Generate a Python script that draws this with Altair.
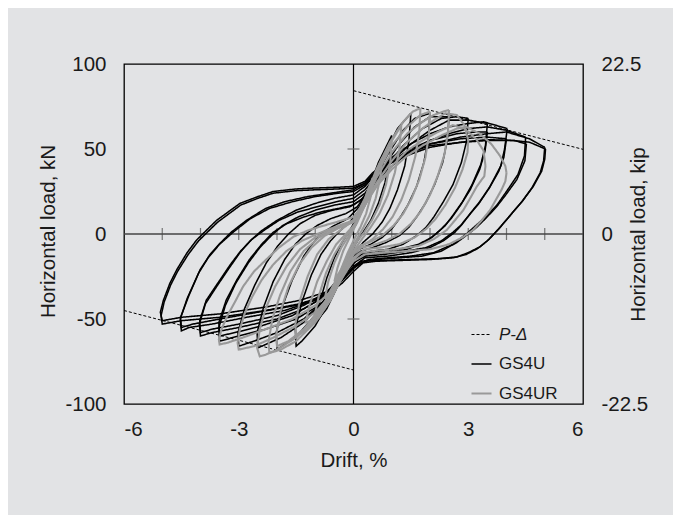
import altair as alt
import pandas as pd

# ---------------- axis / reference values ----------------
KN_LABELS = [-100, -50, 0, 50, 100]
KIP_LABELS = [-22.5, 0, 22.5]
DRIFT_LABELS = [-6, -3, 0, 3, 6]
ZERO_TICKS_X = [-5, -4, -3, -2, -1, 1, 2, 3, 4, 5]
ZERO_TICKS_Y = [-50, 50]
SERIES = ["P-Δ", "GS4U", "GS4UR"]

# P-Delta lines
PD_POS_DRIFT = [0, 6]
PD_POS_LOAD = [84.3, 49.8]
PD_NEG_DRIFT = [-6, 0]
PD_NEG_LOAD = [-45, -80]

# ---------------- GS4U (black) loops ----------------
K50A_D = [5.02, 5.0, 4.92, 4.7, 4.44, 4.1, 3.83, 3.55, 3.31, 3.0, 2.7, 2.2, 1.5, 0.8, 0.3, 0.0, -0.3, -0.7, -1.4, -2.3,
          -3.5, -4.5, -5.0, -5.05, -4.97, -4.8, -4.62, -4.35, -4.1, -3.58, -2.97, -2.5, -2.1, -1.5, -1.05, -0.4, 0.0, 0.3, 0.5, 0.8,
          1.13, 1.5, 2.0, 2.87, 3.5, 4.17, 4.6, 5.02]
K50A_F = [50, 44, 37, 28, 20, 11, 4, -3, -7.5, -11, -13.5, -14.5, -15, -15.5, -16, -20, -27, -34, -39, -43,
          -47, -49, -51, -46, -39, -29, -21, -11, -3.5, 8, 18, 22, 25, 26.5, 27, 27.5, 28, 31, 36, 41,
          44, 48, 52, 54, 55, 55, 54, 50]

K50B_D = [5.0, 4.97, 4.88, 4.66, 4.4, 4.06, 3.8, 3.5, 3.25, 2.95, 2.6, 2.0, 1.3, 0.6, 0.25, 0.0, -0.3, -0.7, -1.4, -2.3,
          -3.5, -4.5, -5.0, -5.03, -4.95, -4.78, -4.6, -4.32, -4.05, -3.55, -2.95, -2.5, -2.1, -1.5, -1.0, -0.4, 0.0, 0.3, 0.5, 0.8,
          1.1, 1.5, 2.0, 2.8, 3.5, 4.0, 4.6, 5.0]
K50B_F = [51, 43, 36, 27, 19, 10, 3, -4, -8.5, -12, -14, -15, -15.5, -16, -17, -22, -29, -36, -41, -45,
          -49, -51, -53, -48, -40, -30, -22, -12, -4, 7, 17, 21, 24, 25.5, 26, 26.5, 27, 30, 35, 40,
          44, 48, 53, 57, 59, 60, 56, 51]

K45A_D = [4.5, 4.47, 4.3, 4.0, 3.75, 3.45, 3.2, 2.95, 2.6, 2.1, 1.5, 0.9, 0.4, 0.1, -0.2, -0.5, -1.0, -1.8, -2.8, -3.7,
          -4.3, -4.5, -4.53, -4.35, -4.05, -3.8, -3.5, -3.15, -2.7, -2.2, -1.6, -1.0, -0.4, 0.0, 0.3, 0.6, 1.0, 1.5, 2.0, 2.5,
          3.0, 3.5, 4.0, 4.5]
K45A_F = [57, 46, 35, 25, 17, 10, 5, 0, -6, -11, -13, -14, -15, -18, -25, -32, -39, -45, -49, -53,
          -55, -57, -50, -38, -23, -14, -6, 1, 9, 15, 19, 22, 24, 25, 29, 36, 43, 50, 55, 59,
          62, 63, 61, 57]

K45B_D = [4.52, 4.48, 4.27, 3.98, 3.74, 3.45, 3.22, 3.0, 2.7, 2.3, 1.8, 1.2, 0.6, 0.2, -0.1, -0.4, -0.8, -1.5, -2.5, -3.5,
          -4.2, -4.5, -4.52, -4.3, -4.01, -3.75, -3.49, -3.2, -2.8, -2.3, -1.8, -1.2, -0.6, 0.0, 0.3, 0.6, 1.0, 1.5, 2.0, 2.8,
          3.5, 4.2, 4.52]
K45B_F = [53, 43, 32, 23, 16, 9, 4, 0, -5, -10, -13, -14, -15, -16, -22, -30, -37, -42, -46, -50,
          -53, -55, -49, -36, -21, -12, -5.5, 1, 8, 15, 19, 22, 24, 26, 30, 36, 42, 47, 51, 54,
          55.5, 55, 53]

K40A_D = [4.02, 3.95, 3.85, 3.57, 3.3, 3.05, 2.85, 2.65, 2.35, 2.0, 1.5, 0.9, 0.3, 0.0, -0.3, -0.7, -1.3, -2.0, -3.0, -3.7,
          -4.0, -4.03, -3.87, -3.58, -3.25, -2.97, -2.7, -2.4, -2.0, -1.5, -1.0, -0.5, 0.0, 0.3, 0.6, 1.0, 1.5, 2.0, 2.5, 3.0,
          3.4, 4.02]
K40A_F = [62, 50, 40, 28, 19, 12, 6, 1, -4, -8, -11, -13, -14, -19, -27, -36, -44, -50, -55, -58,
          -60, -53, -41, -31, -20, -11, -4, 2, 8, 14, 18, 21, 23, 28, 36, 45, 53, 59, 63, 65,
          66, 62]

K40B_D = [4.0, 3.93, 3.8, 3.55, 3.28, 3.02, 2.8, 2.6, 2.3, 1.9, 1.4, 0.8, 0.3, 0.0, -0.3, -0.7, -1.3, -2.0, -3.0, -3.7,
          -4.0, -4.02, -3.85, -3.55, -3.22, -2.95, -2.65, -2.35, -1.95, -1.45, -0.95, -0.45, 0.0, 0.3, 0.6, 1.0, 1.5, 2.0, 2.8, 3.5,
          4.0]
K40B_F = [56, 45, 37, 27, 18, 11, 5, 1, -4, -8, -10, -12, -13, -17, -25, -34, -42, -48, -53, -56,
          -58, -51, -39, -29, -18, -10, -3, 2, 8, 13, 16, 19, 21, 26, 34, 42, 49, 53, 56, 57,
          56]

K35A_D = [3.5, 3.45, 3.33, 3.1, 2.85, 2.6, 2.4, 2.15, 1.85, 1.4, 0.9, 0.4, 0.1, -0.2, -0.5, -0.9, -1.5, -2.3, -3.0, -3.5,
          -3.52, -3.35, -3.08, -2.75, -2.45, -2.15, -1.85, -1.45, -1.0, -0.5, 0.0, 0.3, 0.6, 1.0, 1.5, 2.0, 2.5, 3.0, 3.5]
K35A_F = [65, 52, 41, 29, 19, 11, 5, 0, -5, -9, -11, -12, -15, -23, -33, -42, -50, -56, -60, -63,
          -55, -42, -29, -17, -8, -1, 5, 10, 14, 17, 19, 24, 33, 43, 53, 61, 67, 67, 65]

K35B_D = [3.5, 3.44, 3.3, 3.05, 2.8, 2.55, 2.3, 2.05, 1.7, 1.2, 0.7, 0.3, 0.0, -0.3, -0.6, -1.0, -1.6, -2.4, -3.1, -3.5,
          -3.52, -3.33, -3.05, -2.72, -2.4, -2.1, -1.75, -1.3, -0.85, -0.4, 0.0, 0.3, 0.6, 1.0, 1.5, 2.0, 2.7, 3.2, 3.5]
K35B_F = [60, 49, 38, 26, 17, 9, 3, -2, -6, -9, -10, -11, -15, -23, -32, -40, -48, -54, -58, -60,
          -52, -39, -27, -15, -6, 1, 6, 10, 13, 15, 17, 22, 31, 40, 49, 55, 59, 60, 60]

K30_D = [3.0, 2.95, 2.82, 2.6, 2.35, 2.1, 1.9, 1.65, 1.3, 0.9, 0.5, 0.2, -0.1, -0.4, -0.8, -1.3, -2.0, -2.6, -3.0, -3.02,
         -2.85, -2.58, -2.28, -1.98, -1.7, -1.4, -1.0, -0.55, -0.1, 0.2, 0.5, 0.9, 1.3, 1.8, 2.3, 2.7, 3.0]
K30_F = [68, 54, 42, 29, 19, 10, 4, -1, -6, -9, -10, -12, -19, -29, -40, -50, -58, -63, -66, -58,
         -44, -30, -17, -7, 0, 6, 11, 14, 16, 20, 29, 41, 52, 62, 68, 69, 68]

K25_D = [2.5, 2.45, 2.33, 2.12, 1.88, 1.65, 1.45, 1.2, 0.85, 0.5, 0.2, -0.1, -0.4, -0.8, -1.3, -1.9, -2.3, -2.5, -2.52, -2.35,
         -2.1, -1.8, -1.52, -1.25, -0.95, -0.6, -0.2, 0.1, 0.4, 0.8, 1.2, 1.6, 2.0, 2.5]
K25_F = [69, 55, 42, 29, 18, 10, 4, -1, -5, -8, -10, -16, -27, -40, -52, -61, -65, -67, -58, -43,
         -28, -15, -6, 0, 5, 9, 12, 16, 26, 40, 53, 63, 69, 69]

K20_D = [2.0, 1.95, 1.84, 1.65, 1.42, 1.2, 1.0, 0.75, 0.45, 0.15, -0.15, -0.5, -0.9, -1.4, -1.8, -2.0, -2.02, -1.85, -1.6, -1.3,
         -1.05, -0.8, -0.5, -0.15, 0.15, 0.5, 0.9, 1.3, 1.6, 2.0]
K20_F = [71, 56, 42, 28, 17, 9, 3, -2, -6, -9, -17, -31, -45, -58, -65, -68, -58, -42, -27, -13,
         -5, 1, 5, 9, 16, 31, 47, 61, 68, 71]

K15_D = [1.5, 1.45, 1.34, 1.15, 0.95, 0.75, 0.5, 0.25, 0.0, -0.3, -0.65, -1.0, -1.35, -1.5, -1.52, -1.35, -1.1, -0.85, -0.6, -0.35,
         -0.1, 0.15, 0.45, 0.8, 1.15, 1.5]
K15_F = [71, 55, 40, 26, 15, 7, 0, -5, -12, -25, -40, -54, -63, -66, -56, -40, -24, -12, -4, 2,
         7, 14, 28, 46, 62, 71]

K10_D = [1.0, 0.95, 0.82, 0.65, 0.45, 0.25, 0.05, -0.15, -0.4, -0.7, -0.95, -1.0, -0.88, -0.7, -0.5, -0.3, -0.1, 0.1, 0.35, 0.65, 1.0]
K10_F = [58, 44, 30, 18, 8, 1, -6, -16, -30, -44, -51, -52, -40, -26, -14, -5, 2, 10, 24, 42, 58]

# ---------------- GS4UR (grey) loops ----------------
G40_D = [4.0, 3.97, 3.87, 3.72, 3.57, 3.35, 3.13, 2.85, 2.5, 2.0, 1.4, 0.8, 0.3, 0.0, -0.3, -0.6, -1.0, -1.6, -2.3, -2.9,
         -3.3, -3.5, -3.52, -3.45, -3.31, -3.1, -2.89, -2.6, -2.28, -1.95, -1.57, -1.2, -0.88, -0.45, 0.0, 0.3, 0.6, 1.0, 1.4, 1.8,
         2.3, 2.7, 2.95, 3.3, 3.6, 3.83, 3.97, 4.0]
G40_F = [36, 31, 26, 20, 14, 8, 2.4, -2, -6, -9, -10, -11, -12, -16, -25, -34, -42, -50, -56, -61,
         -64, -65, -62, -56, -48.6, -40, -31, -22, -15, -8, -1.6, 2, 4.3, 7, 10, 18, 28, 38, 46, 52,
         58, 62, 63, 59, 53, 46, 40, 36]

G34_D = [3.45, 3.42, 3.32, 3.22, 3.05, 2.87, 2.65, 2.44, 2.1, 1.7, 1.1, 0.5, 0.2, 0.0, -0.3, -0.6, -1.0, -1.5, -2.1, -2.6,
         -3.0, -3.03, -2.97, -2.85, -2.65, -2.4, -2.1, -1.75, -1.35, -0.95, -0.5, 0.0, 0.3, 0.6, 1.0, 1.4, 1.8, 2.2, 2.6, 2.9,
         3.2, 3.4, 3.45]
G34_F = [40, 34, 31, 27.8, 21, 14, 8, 2.4, -3, -7, -9, -10, -11, -15, -26, -37, -46, -54, -61, -66,
         -68, -64, -56, -47, -37, -27, -18, -10, -4, 0, 4, 8, 17, 28, 40, 49, 55, 60, 64, 62,
         56, 49, 40]

G30_D = [3.0, 2.98, 2.85, 2.65, 2.4, 2.15, 1.9, 1.6, 1.2, 0.7, 0.3, 0.0, -0.3, -0.6, -1.0, -1.5, -2.0, -2.3, -2.45, -2.52,
         -2.45, -2.3, -2.05, -1.75, -1.4, -1.0, -0.55, 0.0, 0.3, 0.6, 1.0, 1.4, 1.8, 2.1, 2.4, 2.7, 2.9, 3.0]
G30_F = [55, 48, 38, 27, 17, 9, 3, -2, -6, -8, -9, -14, -26, -38, -50, -61, -68, -71, -72, -67,
         -56, -44, -31, -19, -9, -2, 3, 7, 17, 30, 43, 54, 62, 67, 71, 70, 64, 55]

G25_D = [2.5, 2.47, 2.38, 2.2, 2.0, 1.75, 1.5, 1.2, 0.85, 0.45, 0.2, 0.0, -0.3, -0.6, -1.0, -1.5, -1.9, -2.2, -2.22, -2.12,
         -1.92, -1.65, -1.3, -0.9, -0.45, 0.0, 0.3, 0.6, 1.0, 1.4, 1.8, 2.1, 2.35, 2.5]
G25_F = [73, 60, 47, 34, 23, 13, 6, 0, -4, -7, -8, -12, -25, -39, -52, -63, -68, -70, -63, -50,
         -36, -22, -10, -2, 3, 7, 18, 33, 48, 59, 66, 70, 72, 73]

G20_D = [2.0, 1.97, 1.88, 1.72, 1.52, 1.3, 1.05, 0.75, 0.4, 0.15, -0.1, -0.4, -0.8, -1.3, -1.7, -2.0, -2.02, -1.9, -1.7, -1.42,
         -1.1, -0.75, -0.35, 0.0, 0.3, 0.65, 1.0, 1.4, 1.75, 2.0]
G20_F = [72, 58, 45, 32, 21, 12, 5, -1, -5, -7, -12, -26, -42, -56, -63, -66, -59, -45, -31, -18,
         -8, -1, 4, 8, 20, 37, 52, 63, 70, 72]

G17_D = [1.75, 1.72, 1.62, 1.45, 1.25, 1.02, 0.78, 0.5, 0.22, 0.0, -0.25, -0.55, -0.9, -1.25, -1.5, -1.52, -1.4, -1.2, -0.95, -0.65,
         -0.3, 0.0, 0.3, 0.6, 0.95, 1.3, 1.55, 1.75]
G17_F = [74, 60, 46, 32, 20, 10, 3, -3, -7, -11, -22, -36, -49, -57, -60, -53, -39, -25, -12, -3,
         3, 8, 21, 38, 54, 66, 72, 74]

G125_D = [1.25, 1.2, 1.08, 0.9, 0.68, 0.45, 0.22, 0.0, -0.25, -0.55, -0.85, -1.1, -1.25, -1.15, -0.95, -0.7, -0.45, -0.2, 0.05, 0.3,
          0.6, 0.9, 1.25]
G125_F = [64, 50, 36, 23, 12, 4, -3, -10, -21, -34, -45, -51, -52, -42, -28, -16, -6, 0, 6, 17,
          35, 51, 64]

G10_D = [1.0, 0.96, 0.85, 0.68, 0.48, 0.28, 0.1, -0.1, -0.35, -0.65, -0.9, -1.0, -0.9, -0.72, -0.5, -0.28, -0.05, 0.15, 0.4, 0.7, 1.0]
G10_F = [55, 42, 29, 17, 8, 1, -4, -12, -24, -37, -44, -46, -36, -23, -12, -4, 3, 10, 24, 41, 55]

G075_D = [0.75, 0.7, 0.58, 0.42, 0.24, 0.06, -0.14, -0.38, -0.62, -0.75, -0.66, -0.5, -0.32, -0.12, 0.08, 0.3, 0.52, 0.75]
G075_F = [45, 33, 21, 11, 3, -4, -12, -24, -34, -38, -28, -17, -8, -1, 6, 17, 31, 45]

G05_D = [0.5, 0.45, 0.33, 0.18, 0.02, -0.15, -0.33, -0.48, -0.5, -0.42, -0.27, -0.1, 0.05, 0.22, 0.38, 0.5]
G05_F = [33, 22, 12, 4, -3, -11, -21, -27, -28, -20, -10, -2, 5, 15, 26, 33]

BLACK_LOOPS = {
    "K50A": (K50A_D, K50A_F), "K50B": (K50B_D, K50B_F),
    "K45A": (K45A_D, K45A_F), "K45B": (K45B_D, K45B_F),
    "K40A": (K40A_D, K40A_F), "K40B": (K40B_D, K40B_F),
    "K35A": (K35A_D, K35A_F), "K35B": (K35B_D, K35B_F),
    "K30": (K30_D, K30_F), "K25": (K25_D, K25_F),
    "K20": (K20_D, K20_F), "K15": (K15_D, K15_F), "K10": (K10_D, K10_F),
}
GREY_LOOPS = {
    "G40": (G40_D, G40_F), "G34": (G34_D, G34_F), "G30": (G30_D, G30_F),
    "G25": (G25_D, G25_F), "G20": (G20_D, G20_F), "G17": (G17_D, G17_F),
    "G125": (G125_D, G125_F), "G10": (G10_D, G10_F), "G075": (G075_D, G075_F),
    "G05": (G05_D, G05_F),
}


def rows(series, loops):
    out = []
    for name, (dd, ff) in loops.items():
        for i, (d, f) in enumerate(zip(dd, ff)):
            out.append({"drift": d, "load": f, "series": series, "loop": name, "idx": i})
    return out


black_df = pd.DataFrame(rows("GS4U", BLACK_LOOPS))
grey_df = pd.DataFrame(rows("GS4UR", GREY_LOOPS))
pd_df = pd.DataFrame(rows("P-Δ", {"pos": (PD_POS_DRIFT, PD_POS_LOAD), "neg": (PD_NEG_DRIFT, PD_NEG_LOAD)}))

FONT = "Liberation Sans"
GREY = "#999999"
HYPHEN = "replace(datum.label, '\u2212', '-')"
FS = 20.5

x_scale = alt.Scale(domain=[-6, 6], nice=False, zero=False)
y_scale = alt.Scale(domain=[-100, 100], nice=False, zero=False)

x_enc = alt.X("drift:Q", scale=x_scale,
              axis=alt.Axis(values=DRIFT_LABELS, title="Drift, %", grid=False, domain=False, ticks=False,
                            labelPadding=15, titlePadding=11, labelFontSize=FS, titleFontSize=FS,
                            labelExpr=HYPHEN))
y_enc = alt.Y("load:Q", scale=y_scale,
              axis=alt.Axis(values=KN_LABELS, title="Horizontal load, kN", grid=False, domain=False, ticks=False,
                            labelPadding=18, labelFontSize=FS, titleFontSize=FS, labelExpr=HYPHEN,
                            titleX=-76, titleY=167, titleAngle=270, titleAlign="center",
                            titleBaseline="middle"))

color_enc = alt.Color("series:N", scale=alt.Scale(domain=SERIES, range=["#000000", "#000000", GREY]),
                      legend=alt.Legend(title=None, orient="none", legendX=346, legendY=260,
                                        symbolType="stroke", symbolSize=400, labelFontSize=17,
                                        labelFont=FONT, rowPadding=10, labelOffset=6,
                                        labelFontStyle=alt.ExprRef(expr="datum.label == 'P-Δ' ? 'italic' : 'normal'")))
dash_enc = alt.StrokeDash("series:N", scale=alt.Scale(domain=SERIES, range=[[3, 2], [1, 0], [1, 0]]))
width_enc = alt.StrokeWidth("series:N", scale=alt.Scale(domain=SERIES, range=[1, 2.1, 2.5]))


def line_layer(df):
    return alt.Chart(df).mark_line().encode(
        x=x_enc, y=y_enc, color=color_enc, strokeDash=dash_enc, strokeWidth=width_enc,
        detail="loop:N", order="idx:Q")


zero_h = alt.Chart(pd.DataFrame({"v": [0]})).mark_rule(color="#444444", strokeWidth=1.3).encode(
    y=alt.Y("v:Q", scale=y_scale))
zero_v = alt.Chart(pd.DataFrame({"v": [0]})).mark_rule(color="#000000", strokeWidth=1.2).encode(
    x=alt.X("v:Q", scale=x_scale))
ticks_x = alt.Chart(pd.DataFrame({"v": ZERO_TICKS_X})).mark_tick(
    orient="vertical", size=12, thickness=1.2, color="#444444").encode(
    x=alt.X("v:Q", scale=x_scale), y=alt.datum(0))
ticks_y = alt.Chart(pd.DataFrame({"v": ZERO_TICKS_Y})).mark_tick(
    orient="horizontal", size=12, thickness=1.5, color="#666666").encode(
    y=alt.Y("v:Q", scale=y_scale), x=alt.datum(0))

main = alt.layer(zero_h, zero_v, ticks_x, ticks_y,
                 line_layer(pd_df), line_layer(black_df), line_layer(grey_df))

kip = alt.Chart(pd.DataFrame({"kip": KIP_LABELS, "drift": [0, 0, 0]})).mark_point(opacity=0).encode(
    x=alt.X("drift:Q", scale=x_scale),
    y=alt.Y("kip:Q", scale=alt.Scale(domain=[-22.5, 22.5], nice=False, zero=False),
            axis=alt.Axis(orient="right", values=KIP_LABELS, title="Horizontal load, kip", grid=False,
                          domain=False, ticks=False, labelPadding=18, labelFontSize=FS, titleFontSize=FS,
                          format=".1~f", labelExpr=HYPHEN,
                          titleX=55, titleY=170, titleAngle=270, titleAlign="center",
                          titleBaseline="middle")))

chart = alt.layer(main, kip).resolve_scale(y="independent").properties(
    width=459, height=340,
    autosize=alt.AutoSizeParams(type="none"),
    padding={"left": 116, "top": 56, "right": 90, "bottom": 111},
).configure(
    background="#e2e3e5",
).configure_view(
    stroke="#000000", strokeWidth=1.3, fill="#e2e3e5",
).configure_axis(
    labelFont=FONT, titleFont=FONT, labelColor="#1a1a1a", titleColor="#1a1a1a", titleFontWeight="normal",
).configure_legend(
    labelColor="#1a1a1a",
)

chart.save("out.html", embed_options={"renderer": "svg", "actions": False})
